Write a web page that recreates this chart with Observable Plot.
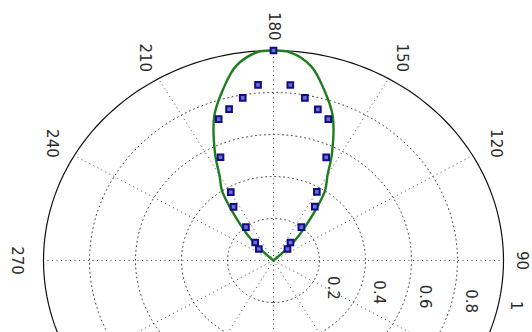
<!DOCTYPE html>
<html>
<head>
<meta charset="utf-8">
<script src="https://cdn.jsdelivr.net/npm/d3@7"></script>
<script src="https://cdn.jsdelivr.net/npm/@observablehq/plot@0.6"></script>
<style>
html, body { margin: 0; padding: 0; background: #fff; overflow: hidden; }
#chart svg { overflow: hidden; display: block; }
</style>
</head>
<body>
<div id="chart"></div>
<script>
// Angle grid (degrees)
const thetaTicks = [0, 30, 60, 90, 120, 150, 180, 210, 240, 270, 300, 330];
// Angle labels visible in the picture
const thetaLabelAngles = [90, 120, 150, 180, 210, 240, 270];
const thetaLabels = ["90", "120", "150", "180", "210", "240", "270"];
// Radial grid and labels
const rTicks = [0.2, 0.4, 0.6, 0.8, 1];
const rLabels = ["0.2", "0.4", "0.6", "0.8", "1"];

// Green curve (theta in degrees, radius)
const greenTheta = [132, 134, 137.5, 142, 146, 150, 153.5, 159.5, 165, 170, 176, 180, 184, 190, 195, 200.5, 206.5, 210, 214, 218, 222.5, 226, 228];
const greenR     = [0, 0.09, 0.17, 0.28, 0.40, 0.47, 0.57, 0.735, 0.845, 0.94, 0.995, 1.0, 0.995, 0.94, 0.845, 0.735, 0.57, 0.47, 0.40, 0.28, 0.17, 0.09, 0];

// Blue square markers (theta in degrees, radius)
const blueTheta = [132, 139.2, 142.7, 145, 150, 155, 160.5, 165, 170, 175, 180, 184.6, 189.8, 195, 199.5, 205.1, 209.7, 214.2, 217, 222.9, 229.4];
const blueR     = [0.082, 0.113, 0.2, 0.313, 0.377, 0.542, 0.714, 0.745, 0.786, 0.839, 1.0, 0.839, 0.786, 0.746, 0.714, 0.543, 0.375, 0.309, 0.199, 0.117, 0.084];

const rad = Math.PI / 180;
const px = (t, r) => r * Math.sin(t * rad);
const py = (t, r) => -r * Math.cos(t * rad);

const circ = d3.range(0, 361, 2);
const rings = rTicks.filter(r => r < 1).flatMap(r => circ.map(t => ({x: px(t, r), y: py(t, r), ring: r})));
const outer = circ.map(t => ({x: px(t, 1), y: py(t, 1)}));
const spokes = thetaTicks.map(t => ({x1: 0, y1: 0, x2: px(t, 1), y2: py(t, 1)}));
const thLab = thetaLabelAngles.map((t, i) => ({t, x: px(t, 1.115), y: py(t, 1.115), label: thetaLabels[i]}));
const rLab = rTicks.map((r, i) => ({x: px(84, r), y: py(84, r), label: rLabels[i]}));
const green = greenTheta.map((t, i) => ({x: px(t, greenR[i]), y: py(t, greenR[i])}));
const blue = blueTheta.map((t, i) => ({x: px(t, blueR[i]), y: py(t, blueR[i])}));

const cx = 273, cy = 260, sx = 230, sy = 210;
const textStyle = {x: "x", y: "y", text: "label", rotate: 90, fontSize: 15, fill: "#2a2a2a", textAnchor: "middle", lineAnchor: "middle"};

const chart = Plot.plot({
  width: 532,
  height: 332,
  margin: 0,
  style: {background: "#fff", fontFamily: "DejaVu Sans, sans-serif", overflow: "hidden"},
  x: {domain: [-1, 1], range: [cx - sx, cx + sx], axis: null},
  y: {domain: [-1, 1], range: [cy + sy, cy - sy], axis: null},
  marks: [
    Plot.line(rings, {x: "x", y: "y", z: "ring", stroke: "#444", strokeWidth: 1, strokeDasharray: "1,3.5"}),
    Plot.link(spokes, {x1: "x1", y1: "y1", x2: "x2", y2: "y2", stroke: "#444", strokeWidth: 1, strokeDasharray: "1,3.5"}),
    Plot.line(outer, {x: "x", y: "y", stroke: "#111", strokeWidth: 1.2}),
    Plot.line(green, {x: "x", y: "y", stroke: "#1f7d1f", strokeWidth: 2.4, curve: "catmull-rom"}),
    Plot.dot(blue, {x: "x", y: "y", symbol: "square", r: 3.2, stroke: "#0c0c8c", strokeWidth: 2, fill: "#6f6fc4"}),
    Plot.text(thLab.filter(d => d.t !== 90), textStyle),
    Plot.text(thLab.filter(d => d.t === 90), {...textStyle, dx: -8}),
    Plot.text(rLab, {...textStyle, dx: 14, dy: 23})
  ]
});
document.getElementById("chart").appendChild(chart);
</script>
</body>
</html>
